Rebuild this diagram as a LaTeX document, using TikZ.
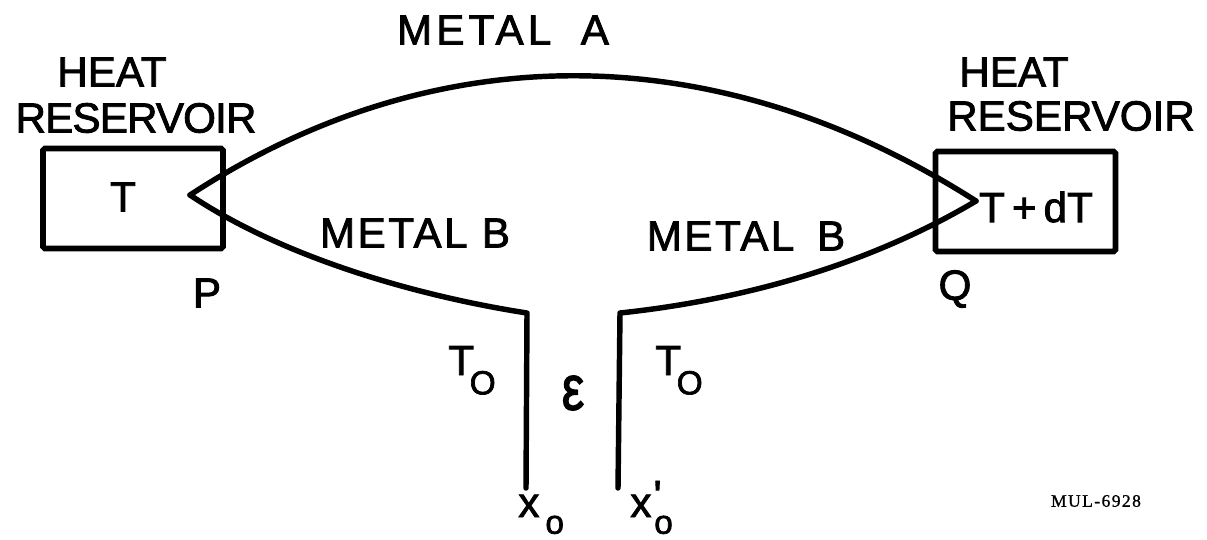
\documentclass[tikz,border=0pt]{standalone}
\usepackage{fontspec}
\setmainfont{Liberation Sans}[RawFeature={embolden=2}]
\newfontfamily\tagfont{Liberation Serif}[LetterSpace=8,RawFeature={embolden=1}]
\usetikzlibrary{positioning}
\newcommand{\lowered}[3][0pt]{#2\kern#1\lower 11pt\hbox{\fontsize{19}{19}\selectfont #3}}
\newcommand{\primed}[2]{x\rlap{\kern#1\raise 4pt\hbox{\textquotesingle}}\kern#2\lower 9.5pt\hbox{\fontsize{19}{19}\selectfont o}}

\begin{document}
\begin{tikzpicture}[
    x=0.02cm, y=-0.02cm,
    lettering/.style={inner sep=0pt, font=\fontsize{24}{24}\selectfont},
    reservoir/.style={draw, line width=3.2pt, minimum width=3.6cm, minimum height=2cm, rounded corners=1pt},
    wire/.style={line width=3.1pt, line join=round, line cap=round},
]
    \useasboundingbox (0, 0) rectangle (1207, 539);

    \node[reservoir] (boxt) at (133, 198.5) {};
    \node[reservoir] (boxq) at (1025.5, 201.5) {};

    \coordinate (juncp) at (190, 195);
    \coordinate (juncq) at (976, 201);
    \coordinate (cornl) at (527, 313);
    \coordinate (cornr) at (620, 313);
    \coordinate (xl) at (526, 488);
    \coordinate (xr) at (618, 488);

    \draw[wire] (juncp) .. controls (435, 35) and (716, 35) .. (juncq);
    \draw[wire] (juncp) .. controls (290, 262) and (430, 298) .. (cornl) -- (xl);
    \draw[wire] (juncq) .. controls (880, 258) and (760, 298) .. (cornr) -- (xr);

    \node[lettering] (metala) at (503, 30) {\addfontfeature{LetterSpace=10}METAL\hspace{0.7em}A};
    \node[lettering] (heatl) at (112, 72) {HEAT};
    \node[lettering] (resl) at (136, 118) {\addfontfeature{LetterSpace=-2}RESERVOIR};
    \node[lettering] (heatr) at (1014, 72) {HEAT};
    \node[lettering] (resr) at (1071, 116) {RESERVOIR};

    \node[lettering] (templ) at (123, 197) {T};
    \node[lettering] (tempr) at (1036, 207) {T\,+\,dT};
    \node[lettering] (p) at (207, 293) {P};
    \node[lettering] (q) at (955, 289) {Q};

    \node[lettering] (metbl) at (415, 233) {\addfontfeature{LetterSpace=6}METAL B};
    \node[lettering] (metbr) at (746, 236) {\addfontfeature{LetterSpace=6}METAL\hspace{0.2em} B};

    \node[lettering, anchor=base west] (tl) at (448, 375) {\lowered[-2.5pt]{T}{O}};
    \node[lettering, anchor=base west] (tr) at (655, 375) {\lowered[-2.5pt]{T}{O}};
    \node[inner sep=0pt, font=\fontsize{36}{36}\selectfont, xscale=0.8] (emf) at (573, 393) {ε};
    \node[lettering, anchor=base west] (xol) at (518, 517) {\lowered[3.4pt]{x}{\raise 1.5pt\hbox{o}}};
    \node[lettering, anchor=base west] (xor) at (630, 517) {\primed{1.2pt}{1.6pt}};

    \node[inner sep=0pt, font=\fontsize{10}{10}\tagfont] (tag) at (1096, 501) {MUL-6928};
\end{tikzpicture}
\end{document}
